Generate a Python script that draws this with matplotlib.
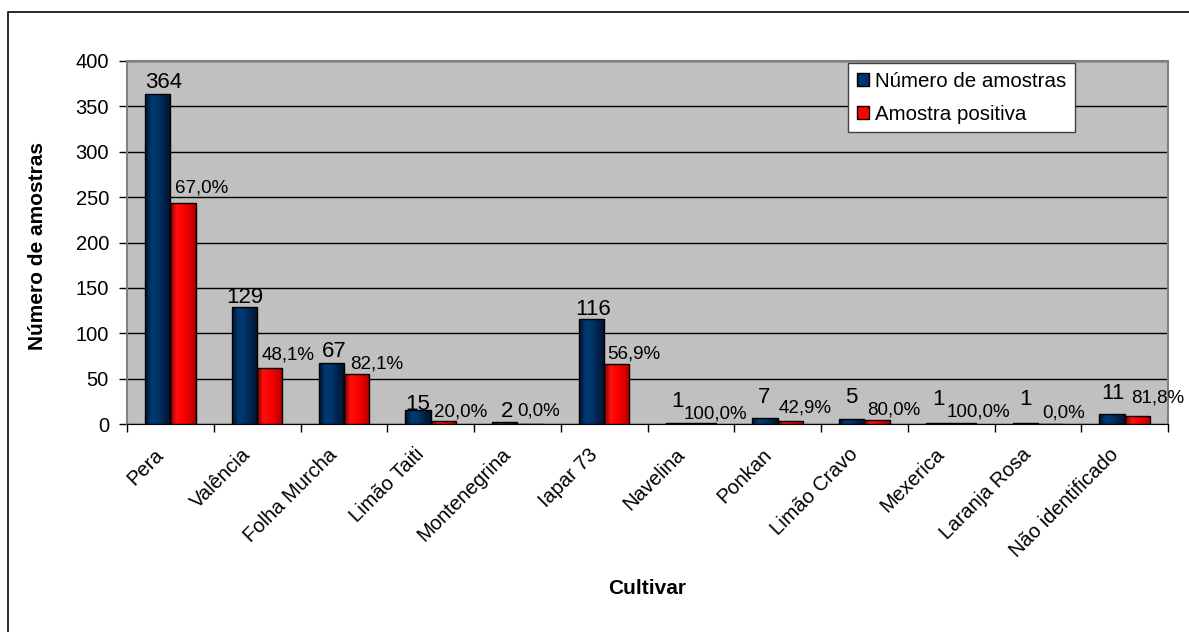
import numpy as np
import matplotlib
matplotlib.use("Agg")
import matplotlib.pyplot as plt
from matplotlib.colors import LinearSegmentedColormap
from matplotlib.lines import Line2D
from matplotlib.patches import Patch
from matplotlib.transforms import ScaledTranslation

# ---- data -------------------------------------------------------------
cultivares = ["Pera", "Valência", "Folha Murcha", "Limão Taiti", "Montenegrina",
              "Iapar 73", "Navelina", "Ponkan", "Limão Cravo", "Mexerica",
              "Laranja Rosa", "Não identificado"]
n_amostras = [364, 129, 67, 15, 2, 116, 1, 7, 5, 1, 1, 11]
n_positivas = [244, 62, 55, 3, 0, 66, 1, 3, 4, 1, 0, 9]
y_ticks = [0, 50, 100, 150, 200, 250, 300, 350, 400]

# label nudges (pixels): count labels lifted above bar top, percent labels
count_gap = [6, 4, 6, 0, 5, 4, 16, 15, 16, 18, 18, 15]
count_dx = [6, 0, 3, 0, 2, 2, -1, -1, -1, 0, 0, 1]
pct_dx = [5, 5, 6, 3, 0, 3, -7, 1, 3, -4, 4, 7]
pct_gap = [10, 8, 6, 5, 8, 6, 5, 9, 6, 7, 7, 13]

plt.rcParams["font.family"] = ["Liberation Sans", "DejaVu Sans"]

W, H, DPI = 1189, 632, 100
fig = plt.figure(figsize=(W / DPI, H / DPI), dpi=DPI)
ax = fig.add_axes([127 / W, 1 - 424 / H, (1168 - 127) / W, (424 - 61) / H])
ax.set_facecolor("#c0c0c0")

# outer chart frame (top and left edges)
fig.add_artist(Line2D([8 / W, 8 / W, 1.0], [0.0, 1 - 12 / H, 1 - 12 / H],
                      transform=fig.transFigure, color="#2a2a2a", lw=1.4))

navy_cmap = LinearSegmentedColormap.from_list(
    "navy", ["#00112a", "#003a72", "#00356a", "#00224a", "#001530"])
red_cmap = LinearSegmentedColormap.from_list(
    "red", ["#7a0000", "#ff1010", "#ff0000", "#e00000", "#a80000"])
grad = np.linspace(0, 1, 64).reshape(1, -1)

x = np.arange(len(cultivares))
bw = 0.29


def gradient_bars(xpos, heights, cmap, label):
    bars = ax.bar(xpos, heights, bw, align="edge", facecolor="none",
                  edgecolor="black", lw=1.0, zorder=4, label=label)
    for patch, h in zip(bars, heights):
        if h <= 0:
            continue
        x0 = patch.get_x()
        im = ax.imshow(grad, extent=(x0, x0 + bw, 0, h), aspect="auto",
                       cmap=cmap, zorder=3, interpolation="bilinear")
        im.set_clip_path(patch)
    return bars


gradient_bars(x - bw, n_amostras, navy_cmap, "Número de amostras")
gradient_bars(x, n_positivas, red_cmap, "Amostra positiva")

ax.set_xlim(-0.5, len(cultivares) - 0.5)
ax.set_ylim(0, 400)
ax.set_yticks(y_ticks)
ax.set_yticklabels([str(v) for v in y_ticks], fontsize=14.5)
ax.yaxis.grid(True, color="black", lw=1.0, zorder=1)
ax.set_axisbelow(True)

ax.set_xticks(x)
ax.set_xticks(np.arange(len(cultivares) + 1) - 0.5, minor=True)
ax.tick_params(axis="x", which="major", length=0, pad=15)
ax.tick_params(axis="x", which="minor", length=6, width=1, color="black", direction="out")
ax.tick_params(axis="y", length=6, width=1, color="black", direction="out", pad=7)
ax.set_xticklabels(cultivares, rotation=45, ha="right", rotation_mode="anchor", fontsize=14.5)
shift = ScaledTranslation(-16 / DPI, 0, fig.dpi_scale_trans)
for lab in ax.get_xticklabels():
    lab.set_transform(lab.get_transform() + shift)

for side in ["top", "right", "left"]:
    ax.spines[side].set_color("#808080")
    ax.spines[side].set_linewidth(1.5)
ax.spines["bottom"].set_color("black")

ax.set_ylabel("Número de amostras", fontsize=15, fontweight="bold")
ax.yaxis.label.set_va("center")
ax.yaxis.set_label_coords(-(127 - 38) / (1168 - 127), 0.49)
ax.set_xlabel("Cultivar", fontsize=15, fontweight="bold")
ax.xaxis.label.set_va("center")
ax.xaxis.set_label_coords(0.5, -(589 - 424) / (424 - 61))

px = 72 / DPI
for i, (n, p) in enumerate(zip(n_amostras, n_positivas)):
    ax.annotate(str(n), (x[i] - bw / 2, n), xytext=(count_dx[i] * px, count_gap[i] * px),
                textcoords="offset points", ha="center", va="baseline",
                fontsize=16, zorder=6, annotation_clip=False)
    pct = 100.0 * p / n
    txt = f"{pct:.1f}%".replace(".", ",")
    ax.annotate(txt, (x[i], p), xytext=(pct_dx[i] * px, pct_gap[i] * px),
                textcoords="offset points", ha="left", va="baseline",
                fontsize=13.5, zorder=6, annotation_clip=False)

handles = [Patch(facecolor="#003366", edgecolor="black", lw=1),
           Patch(facecolor="#ff0000", edgecolor="black", lw=1)]
leg = fig.legend(handles, ["Número de amostras", "Amostra positiva"],
                 loc="upper left", bbox_to_anchor=(848 / W, 1 - 63 / H),
                 fontsize=14.8, frameon=True, fancybox=False, edgecolor="#404040",
                 framealpha=1, borderaxespad=0, handlelength=0.6, handleheight=0.6,
                 handletextpad=0.3, labelspacing=0.68, borderpad=0.42)
leg.get_frame().set_linewidth(1.0)

fig.savefig("out.png", dpi=DPI)
